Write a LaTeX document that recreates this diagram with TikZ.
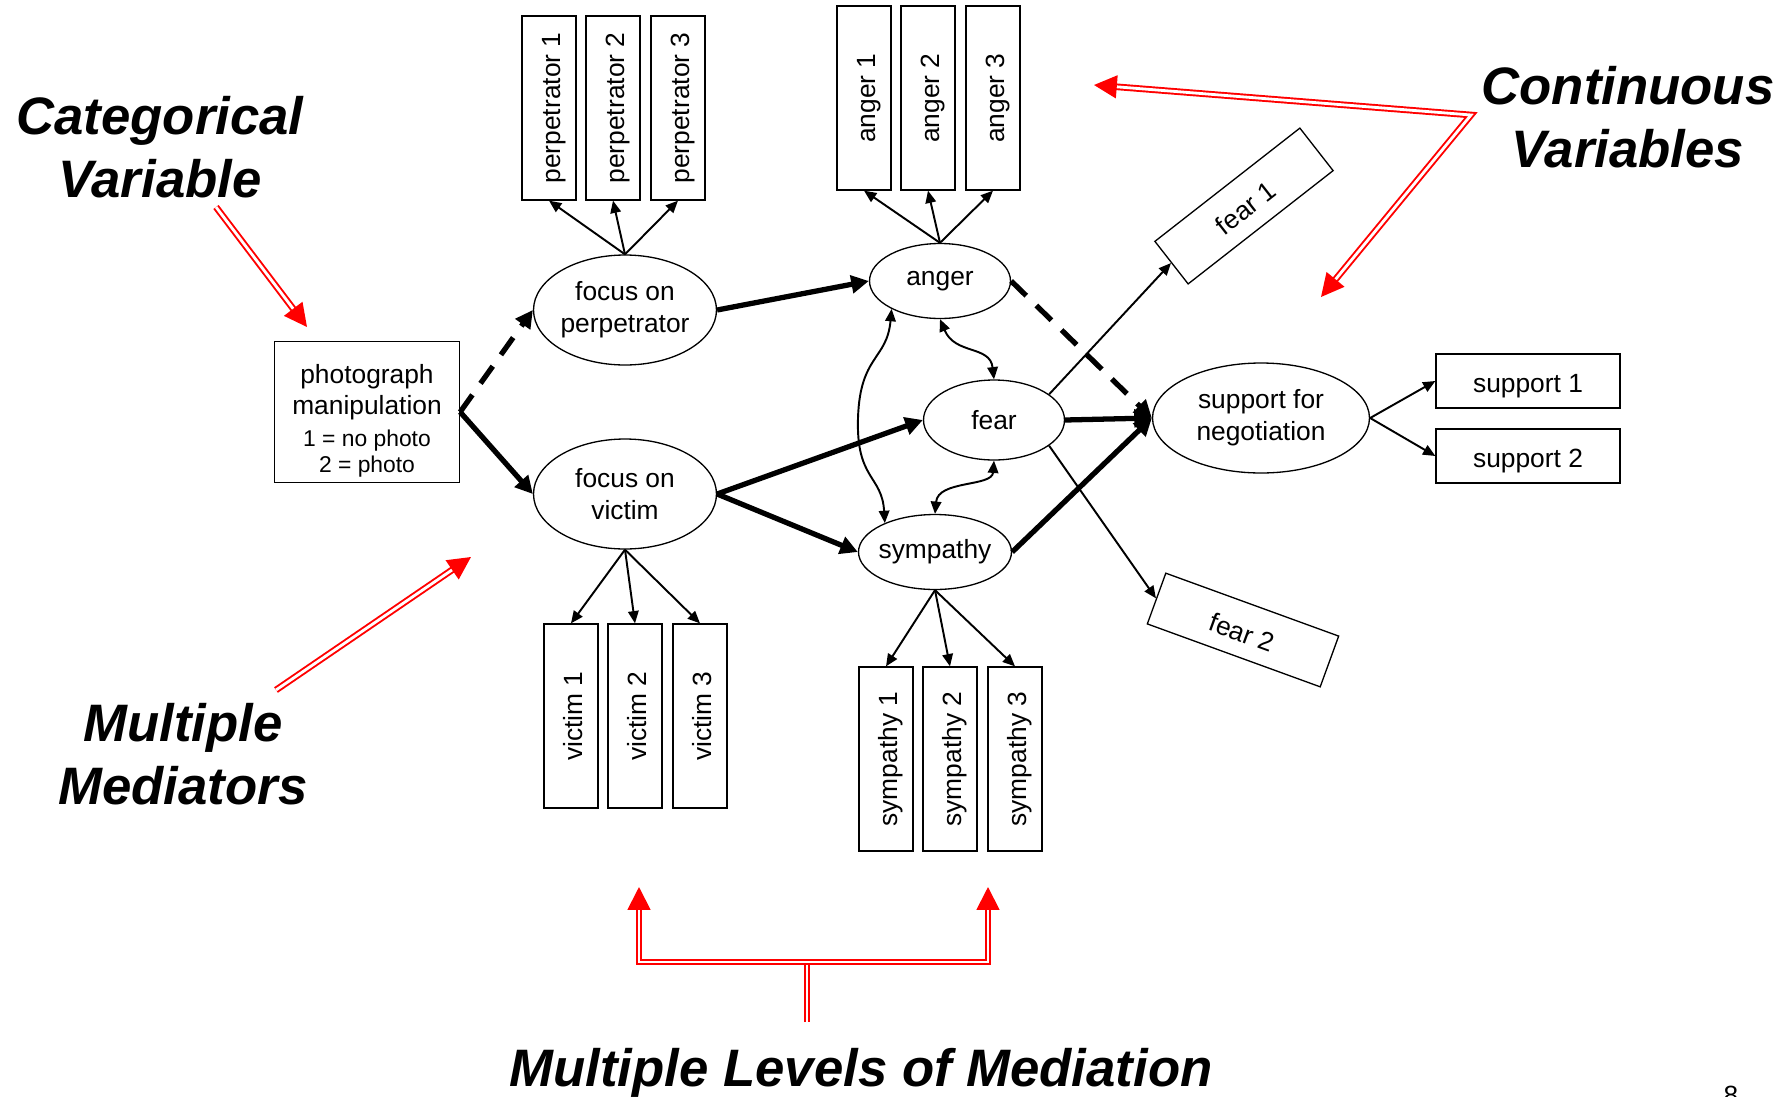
\documentclass[tikz,border=0pt]{standalone}
\usepackage{fontspec}
\setmainfont{Liberation Sans}
\usepackage{tikz}
\usetikzlibrary{
  arrows.meta,
  positioning,
  shapes.geometric
}
\definecolor{hlred}{HTML}{FF0000}

\begin{document}
\begin{tikzpicture}[
  x=0.02cm, y=-0.02cm,
  every node/.style={font=\fontsize{15}{18}\selectfont},
  item/.style={rectangle, draw, line width=0.75pt, inner sep=0pt,
               minimum width=3.68cm, minimum height=1.08cm,
               text height=17pt, text depth=3.5pt},
  vitem/.style={item, rotate=90},
  manip/.style={rectangle, draw, line width=0.75pt, inner sep=0pt,
                minimum width=3.7cm, minimum height=2.82cm, align=center},
  latent/.style={ellipse, draw, line width=0.75pt, inner sep=0pt,
                 inner xsep=-2pt, align=center},
  note/.style={font=\fontsize{30}{36}\selectfont\bfseries\itshape, align=center},
  arr/.style={-{Triangle[length=7pt, width=6pt]}, line width=1.1pt},
  covar/.style={{Triangle[length=7pt, width=6pt]}-{Triangle[length=7pt, width=6pt]},
                line width=1.1pt},
  heavy/.style={-{Triangle[length=10pt, width=10pt]}, line width=3pt},
  heavydash/.style={heavy, dash pattern=on 12pt off 8pt},
  callout/.style={draw=hlred, line width=1.1pt, double=white, double distance=1.6pt},
  calltip/.style={callout, -{Triangle[length=13pt, width=13pt]}},
]
\useasboundingbox (0,0) rectangle (1789,1096);

\node[manip] (photo) at (367,412)
  {\rule{0pt}{21pt}photograph\\manipulation\\{\fontsize{13}{15}\selectfont 1 = no photo}\\[-3pt]{\fontsize{13}{15}\selectfont 2 = photo}};

\node[latent, minimum width=3.66cm, minimum height=2.2cm] (perp) at (625,310) {focus on\\perpetrator};
\node[latent, minimum width=3.66cm, minimum height=2.2cm] (victim) at (625,494) {focus on\\victim};
\node[latent, minimum width=2.82cm, minimum height=1.5cm] (anger) at (940,281) {anger};
\node[latent, minimum width=2.82cm, minimum height=1.6cm] (fear) at (994,420) {fear};
\node[latent, minimum width=3.06cm, minimum height=1.5cm] (sympathy) at (935,552) {sympathy};
\node[latent, minimum width=4.34cm, minimum height=2.2cm] (support) at (1261,418) {support for\\negotiation};

\node[vitem] (pp1) at (549,108) {perpetrator 1};
\node[vitem] (pp2) at (613,108) {perpetrator 2};
\node[vitem] (pp3) at (678,108) {perpetrator 3};
\node[vitem] (ang1) at (864,98) {anger 1};
\node[vitem] (ang2) at (928,98) {anger 2};
\node[vitem] (ang3) at (993,98) {anger 3};
\node[vitem] (vic1) at (571,716) {victim 1};
\node[vitem] (vic2) at (635,716) {victim 2};
\node[vitem] (vic3) at (700,716) {victim 3};
\node[vitem] (sym1) at (886,759) {sympathy 1};
\node[vitem] (sym2) at (950,759) {sympathy 2};
\node[vitem] (sym3) at (1015,759) {sympathy 3};
\node[item, rotate=38] (fear1) at (1244,206) {fear 1};
\node[item, rotate=-20] (fear2) at (1243,630) {fear 2};
\node[item] (sup1) at (1528,381) {support 1};
\node[item] (sup2) at (1528,456) {support 2};

\node[note] (catlab) at (160,147) {Categorical\\Variable};
\node[note] (contlab) at (1628,117) {Continuous\\Variables};
\node[note] (medlab) at (183,754) {Multiple\\Mediators};
\node[note, anchor=base] (levlab) at (861,1086) {Multiple Levels of Mediation};
\node[anchor=base] (pagenum) at (1731,1104) {8};

\draw[heavydash] (photo.east) -- (perp.west);
\draw[heavy] (photo.east) -- (victim.west);
\draw[heavy] (perp.east) -- (anger.west);
\draw[heavy] (victim.east) -- (fear.west);
\draw[heavy] (victim.east) -- (sympathy.west);
\draw[heavydash] (anger.east) -- (support.west);
\draw[heavy] (fear.east) -- (support.west);
\draw[heavy] (sympathy.east) -- (support.west);

\draw[arr] (perp.north) -- (pp1.west); \draw[arr] (perp.north) -- (pp2.west); \draw[arr] (perp.north) -- (pp3.west);
\draw[arr] (anger.north) -- (ang1.west); \draw[arr] (anger.north) -- (ang2.west); \draw[arr] (anger.north) -- (ang3.west);
\draw[arr] (victim.south) -- (vic1.east); \draw[arr] (victim.south) -- (vic2.east); \draw[arr] (victim.south) -- (vic3.east);
\draw[arr] (sympathy.south) -- (sym1.east); \draw[arr] (sympathy.south) -- (sym2.east); \draw[arr] (sympathy.south) -- (sym3.east);
\draw[arr] (fear.25) -- (fear1.west); \draw[arr] (fear.-25) -- (fear2.west);
\draw[arr] (support.east) -- (sup1.west); \draw[arr] (support.east) -- (sup2.west);

\coordinate (kink) at (858,418);
\draw[covar] (anger.south) .. controls (955,355) and (990,345) .. (fear.north);
\draw[covar] (fear.south) .. controls (992,487) and (938,480) .. (sympathy.north);
\draw[covar] (anger.210) .. controls (887,360) and (860,355) .. (kink)
  .. controls (856,480) and (882,475) .. (sympathy.150);

\coordinate (catfrom) at (216,207); \coordinate (catto) at (307,327);
\coordinate (medfrom) at (276,690); \coordinate (medto) at (471,557);
\coordinate (contleft) at (1094,85); \coordinate (contjoin) at (1471,115); \coordinate (contdown) at (1321,297);
\coordinate (levbase) at (807,1022); \coordinate (levjoin) at (807,962);
\coordinate (levleft) at (639,887); \coordinate (levright) at (988,887);

\draw[calltip] (catfrom) -- (catto);
\draw[calltip] (medfrom) -- (medto);
\draw[callout, {Triangle[length=13pt, width=13pt]}-{Triangle[length=13pt, width=13pt]}]
  (contleft) -- (contjoin) -- (contdown);
\draw[callout] (levbase) -- (levjoin);
\draw[callout, {Triangle[length=13pt, width=13pt]}-{Triangle[length=13pt, width=13pt]}]
  (levleft) |- (levjoin) -| (levright);
\end{tikzpicture}
\end{document}
